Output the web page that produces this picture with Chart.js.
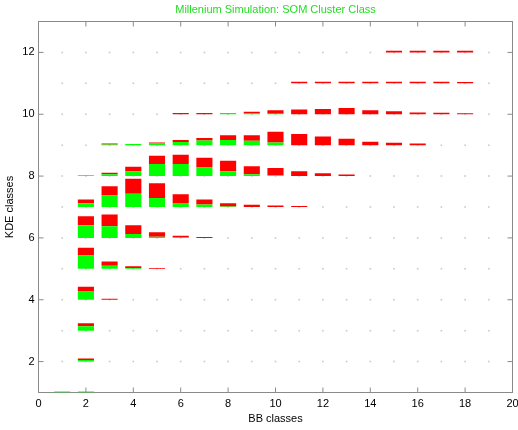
<!DOCTYPE html>
<html>
<head>
<meta charset="utf-8">
<script src="https://cdn.jsdelivr.net/npm/chart.js@4.4.1/dist/chart.umd.min.js"></script>
<style>
  html, body { margin: 0; padding: 0; background: #fff; }
</style>
</head>
<body>
<canvas id="somChart" width="518" height="430"></canvas>
<script>
// light grid of all class positions
const gridCols = [1, 2, 3, 4, 5, 6, 7, 8, 9, 10, 11, 12, 13, 14, 15, 16, 17, 18, 19];
const gridRows = [2, 3, 4, 5, 6, 7, 8, 9, 10, 11, 12];

// one row per KDE class: first BB class used, then green / red part of each cell (KDE units)
const kdeRows = [1, 2, 3, 4, 5, 6, 7, 8, 9, 10, 11, 12];
const rowStartBB = [1, 2, 2, 2, 2, 2, 2, 2, 3, 6, 11, 15];
const greenByRow = [
  [0.03, 0.03],
  [0.05],
  [0.14],
  [0.28, 0],
  [0.43, 0.10, 0.03, 0],
  [0.41, 0.38, 0.13, 0.04, 0.01, 0],
  [0.12, 0.37, 0.43, 0.29, 0.13, 0.08, 0.02, 0, 0, 0],
  [0.03, 0.06, 0.16, 0.39, 0.39, 0.28, 0.16, 0.06, 0.03, 0, 0, 0],
  [0.02, 0.04, 0.05, 0.10, 0.15, 0.17, 0.14, 0.09, 0, 0, 0, 0, 0, 0],
  [0, 0, 0.04, 0.04, 0.02, 0, 0, 0, 0, 0, 0, 0, 0],
  [0, 0, 0, 0, 0, 0, 0, 0],
  [0, 0, 0, 0],
];
const redByRow = [
  [0, 0],
  [0.05],
  [0.10],
  [0.14, 0.03],
  [0.25, 0.14, 0.05, 0.03],
  [0.29, 0.38, 0.28, 0.14, 0.06, 0.03],
  [0.12, 0.30, 0.48, 0.48, 0.28, 0.16, 0.10, 0.07, 0.05, 0.03],
  [0, 0.05, 0.14, 0.27, 0.30, 0.31, 0.34, 0.26, 0.23, 0.16, 0.09, 0.05],
  [0.03, 0, 0.04, 0.07, 0.08, 0.15, 0.18, 0.34, 0.36, 0.28, 0.21, 0.11, 0.08, 0.05],
  [0.04, 0.04, 0, 0.04, 0.11, 0.15, 0.17, 0.20, 0.13, 0.10, 0.06, 0.05, 0.03],
  [0.05, 0.05, 0.05, 0.05, 0.05, 0.05, 0.05, 0.04],
  [0.05, 0.05, 0.05, 0.05],
];

const xTicks = [0, 2, 4, 6, 8, 10, 12, 14, 16, 18, 20];
const yTicks = [2, 4, 6, 8, 10, 12];

const greenBars = [];
const redBars = [];
kdeRows.forEach((kde, r) => {
  greenByRow[r].forEach((g, i) => {
    const bb = rowStartBB[r] + i;
    const red = redByRow[r][i];
    if (g > 0) greenBars.push({ x: bb, y: [kde, kde + g] });
    if (red > 0) redBars.push({ x: bb, y: [kde + g, kde + g + red] });
  });
});

const gridDots = [];
gridRows.forEach((y) => gridCols.forEach((x) => gridDots.push({ x, y })));

const FONT = { family: 'Liberation Sans', size: 11, weight: 'normal' };

// box around the axes with MATLAB-style inward ticks
const framePlugin = {
  id: 'frame',
  beforeDatasetsDraw(chart) {
    const { ctx, chartArea: a, scales } = chart;
    const len = 5;
    ctx.save();
    ctx.strokeStyle = '#8a8a8a';
    ctx.lineWidth = 1;
    ctx.strokeRect(a.left, a.top, a.right - a.left, a.bottom - a.top);
    ctx.beginPath();
    scales.x.ticks.forEach((t) => {
      const px = scales.x.getPixelForValue(t.value);
      ctx.moveTo(px, a.bottom); ctx.lineTo(px, a.bottom - len);
      ctx.moveTo(px, a.top); ctx.lineTo(px, a.top + len);
    });
    scales.y.ticks.forEach((t) => {
      const py = scales.y.getPixelForValue(t.value);
      ctx.moveTo(a.left, py); ctx.lineTo(a.left + len, py);
      ctx.moveTo(a.right, py); ctx.lineTo(a.right - len, py);
    });
    ctx.stroke();
    ctx.restore();
  },
};

const barStyle = { grouped: false, barPercentage: 0.68, categoryPercentage: 1, borderWidth: 0, order: 0 };

new Chart(document.getElementById('somChart').getContext('2d'), {
  type: 'bar',
  data: {
    datasets: [
      { ...barStyle, label: 'green', data: greenBars, backgroundColor: '#00ff00' },
      { ...barStyle, label: 'red', data: redBars, backgroundColor: '#ff0000' },
      {
        type: 'scatter', label: 'grid', data: gridDots, order: 5,
        pointRadius: 1, pointBackgroundColor: '#d0d0d0', pointBorderWidth: 0,
      },
    ],
  },
  options: {
    responsive: false,
    animation: false,
    layout: { padding: { left: 0, right: 5.5, top: 0, bottom: 0 } },
    plugins: {
      legend: { display: false },
      tooltip: { enabled: false },
      title: {
        display: true,
        fullSize: false,
        text: 'Millenium Simulation: SOM Cluster Class',
        color: '#22dd22',
        font: FONT,
        padding: { top: 3, bottom: 5.3 },
      },
    },
    scales: {
      x: {
        type: 'linear', min: 0, max: 20, offset: false,
        grid: { display: false, drawTicks: false, offset: false },
        border: { display: false },
        ticks: { color: '#000', font: FONT, padding: 5, maxRotation: 0 },
        afterBuildTicks: (s) => { s.ticks = xTicks.map((v) => ({ value: v })); },
        afterFit: (s) => { s.height = 37.5; s.paddingLeft = 0; s.paddingRight = 0; },
        title: { display: true, text: 'BB classes', color: '#000', font: FONT, padding: { top: 0, bottom: 4 } },
      },
      y: {
        type: 'linear', min: 1, max: 13,
        grid: { display: false, drawTicks: false },
        border: { display: false },
        ticks: { color: '#000', font: FONT, padding: 4 },
        afterBuildTicks: (s) => { s.ticks = yTicks.map((v) => ({ value: v })); },
        afterFit: (s) => { s.width = 38.5; },
        title: { display: true, text: 'KDE classes', color: '#000', font: FONT, padding: { top: 3.5, bottom: 0 } },
      },
    },
  },
  plugins: [framePlugin],
});
</script>
</body>
</html>
